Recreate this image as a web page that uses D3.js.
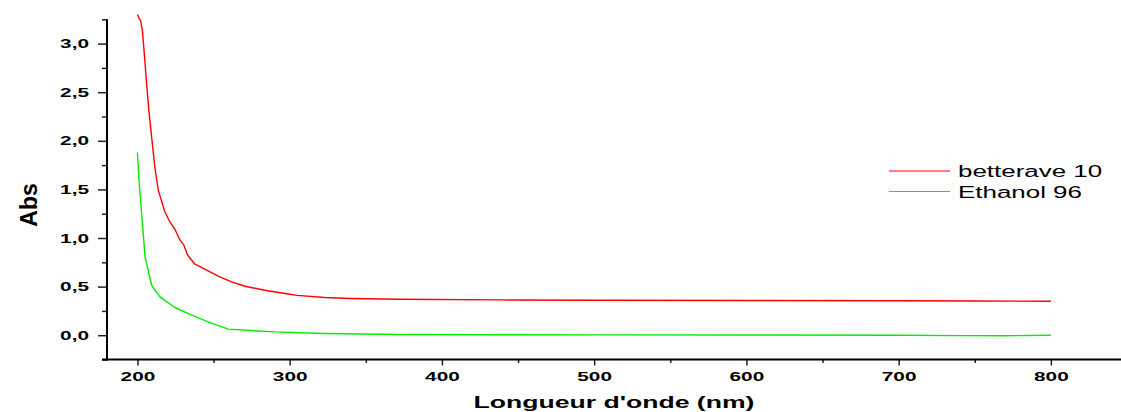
<!DOCTYPE html>
<html>
<head>
<meta charset="utf-8">
<script src="https://cdn.jsdelivr.net/npm/d3@7"></script>
<style>
  html, body { margin: 0; padding: 0; background: #fff; }
  svg { display: block; }
  text { font-family: "Liberation Sans", Arial, sans-serif; fill: #000; }
</style>
</head>
<body>
<svg id="chart" width="1121" height="412"></svg>
<script>
// Absorbance spectra (wavelength in nm, absorbance)
const betteraveNm  = [200, 201, 202, 203.2, 204.5, 206, 207.5, 209.3, 211.5, 213.7, 218, 221.3, 224.6, 227.9, 230.5, 233, 237.8, 244.3, 253, 261.8, 270.6, 283.7, 296.8, 305, 323, 340, 372, 438, 500, 600, 700, 750, 800];
const betteraveAbs = [3.30, 3.26, 3.24, 3.14, 2.90, 2.59, 2.31, 2.04, 1.72, 1.49, 1.27, 1.165, 1.09, 0.98, 0.926, 0.823, 0.73, 0.68, 0.607, 0.548, 0.504, 0.463, 0.429, 0.41, 0.388, 0.378, 0.370, 0.363, 0.360, 0.357, 0.355, 0.352, 0.350];

const ethanolNm  = [200, 201, 205, 209.3, 214.8, 224.6, 235.6, 246.5, 259.6, 290.3, 323, 372, 438, 500, 600, 700, 740, 770, 800];
const ethanolAbs = [1.88, 1.60, 0.805, 0.514, 0.394, 0.285, 0.206, 0.137, 0.062, 0.034, 0.017, 0.007, 0.005, 0.003, 0.002, 0.0, -0.004, -0.006, 0.0];

const seriesNames = ["betterave 10", "Ethanol 96"];
const seriesColors = ["#ff0000", "#00ee00"];

const xMajorTicks = [200, 300, 400, 500, 600, 700, 800];
const xMinorTicks = [250, 350, 450, 550, 650, 750, 850];
const yMajorTicks = [0.0, 0.5, 1.0, 1.5, 2.0, 2.5, 3.0];
const yMinorTicks = [-0.25, 0.25, 0.75, 1.25, 1.75, 2.25, 2.75, 3.25];

const xTitle = "Longueur d'onde (nm)";
const yTitle = "Abs";

const svg = d3.select("#chart");

const x = d3.scaleLinear().domain([180, 850]).range([107, 1127]);
const y = d3.scaleLinear().domain([-0.25, 3.25]).range([359.5, 19.3]);

const fmt = v => d3.format(".1f")(v).replace(".", ",");

// widen tick label glyphs (the plot uses a broad bold face)
function widen(sel, factor) {
  sel.each(function () {
    const len = this.getComputedTextLength();
    d3.select(this)
      .attr("textLength", len * factor)
      .attr("lengthAdjust", "spacingAndGlyphs");
  });
}

// Y axis
const yAxisG = svg.append("g").attr("transform", `translate(${x(180)},0)`);
yAxisG.call(d3.axisLeft(y).tickValues(yMajorTicks).tickSize(9).tickPadding(9).tickFormat(fmt));
yAxisG.append("g").call(d3.axisLeft(y).tickValues(yMinorTicks).tickSize(5).tickFormat(""));
yAxisG.selectAll(".domain").attr("stroke", "none");
yAxisG.selectAll(".tick line").attr("stroke", "#222").attr("stroke-width", 1.5);
yAxisG.selectAll(".tick text")
  .style("font-family", "'Liberation Sans', Arial, sans-serif")
  .style("font-size", "13px").style("font-weight", "bold")
  .call(widen, 1.6);
yAxisG.append("line")
  .attr("x1", 0).attr("x2", 0)
  .attr("y1", y(3.25)).attr("y2", y(-0.25) + 1)
  .attr("stroke", "#000").attr("stroke-width", 2);

// X axis
const xAxisG = svg.append("g").attr("transform", `translate(0,${y(-0.25)})`);
xAxisG.call(d3.axisBottom(x).tickValues(xMajorTicks).tickSize(6).tickPadding(6).tickFormat(d3.format("d")));
xAxisG.append("g").call(d3.axisBottom(x).tickValues(xMinorTicks).tickSize(3.5).tickFormat(""));
xAxisG.selectAll(".domain").attr("stroke", "none");
xAxisG.selectAll(".tick line").attr("stroke", "#222").attr("stroke-width", 1.5);
xAxisG.selectAll(".tick text")
  .style("font-family", "'Liberation Sans', Arial, sans-serif")
  .style("font-size", "13px").style("font-weight", "bold")
  .call(widen, 1.6);
xAxisG.append("line")
  .attr("x1", x(180) - 5).attr("x2", 1121)
  .attr("y1", 0).attr("y2", 0)
  .attr("stroke", "#000").attr("stroke-width", 2);

// Axis titles
svg.append("text")
  .attr("x", 614).attr("y", 408)
  .attr("text-anchor", "middle")
  .style("font-size", "16px").style("font-weight", "bold")
  .text(xTitle)
  .call(widen, 1.66);

svg.append("text")
  .attr("transform", "translate(37,205) rotate(-90)")
  .attr("text-anchor", "middle")
  .style("font-size", "23px").style("font-weight", "bold")
  .text(yTitle);

// Curves
const line = d3.line().x(d => x(d[0])).y(d => y(d[1]));
const series = [
  d3.zip(betteraveNm, betteraveAbs),
  d3.zip(ethanolNm, ethanolAbs)
];
svg.append("g").selectAll("path")
  .data(series)
  .join("path")
  .attr("d", line)
  .attr("fill", "none")
  .attr("stroke", (d, i) => seriesColors[i])
  .attr("stroke-width", 1.4)
  .attr("stroke-linejoin", "round");

// Legend
const legend = svg.append("g").attr("transform", "translate(889,171)");
const items = legend.selectAll("g")
  .data(seriesNames)
  .join("g")
  .attr("transform", (d, i) => `translate(0,${i * 20.5})`);
items.append("line")
  .attr("x1", 0).attr("x2", 61)
  .attr("stroke", (d, i) => seriesColors[i])
  .attr("stroke-width", 1);
items.append("text")
  .attr("x", 69).attr("y", 6)
  .style("font-size", "16px")
  .text(d => d)
  .call(widen, 1.62);
</script>
</body>
</html>
